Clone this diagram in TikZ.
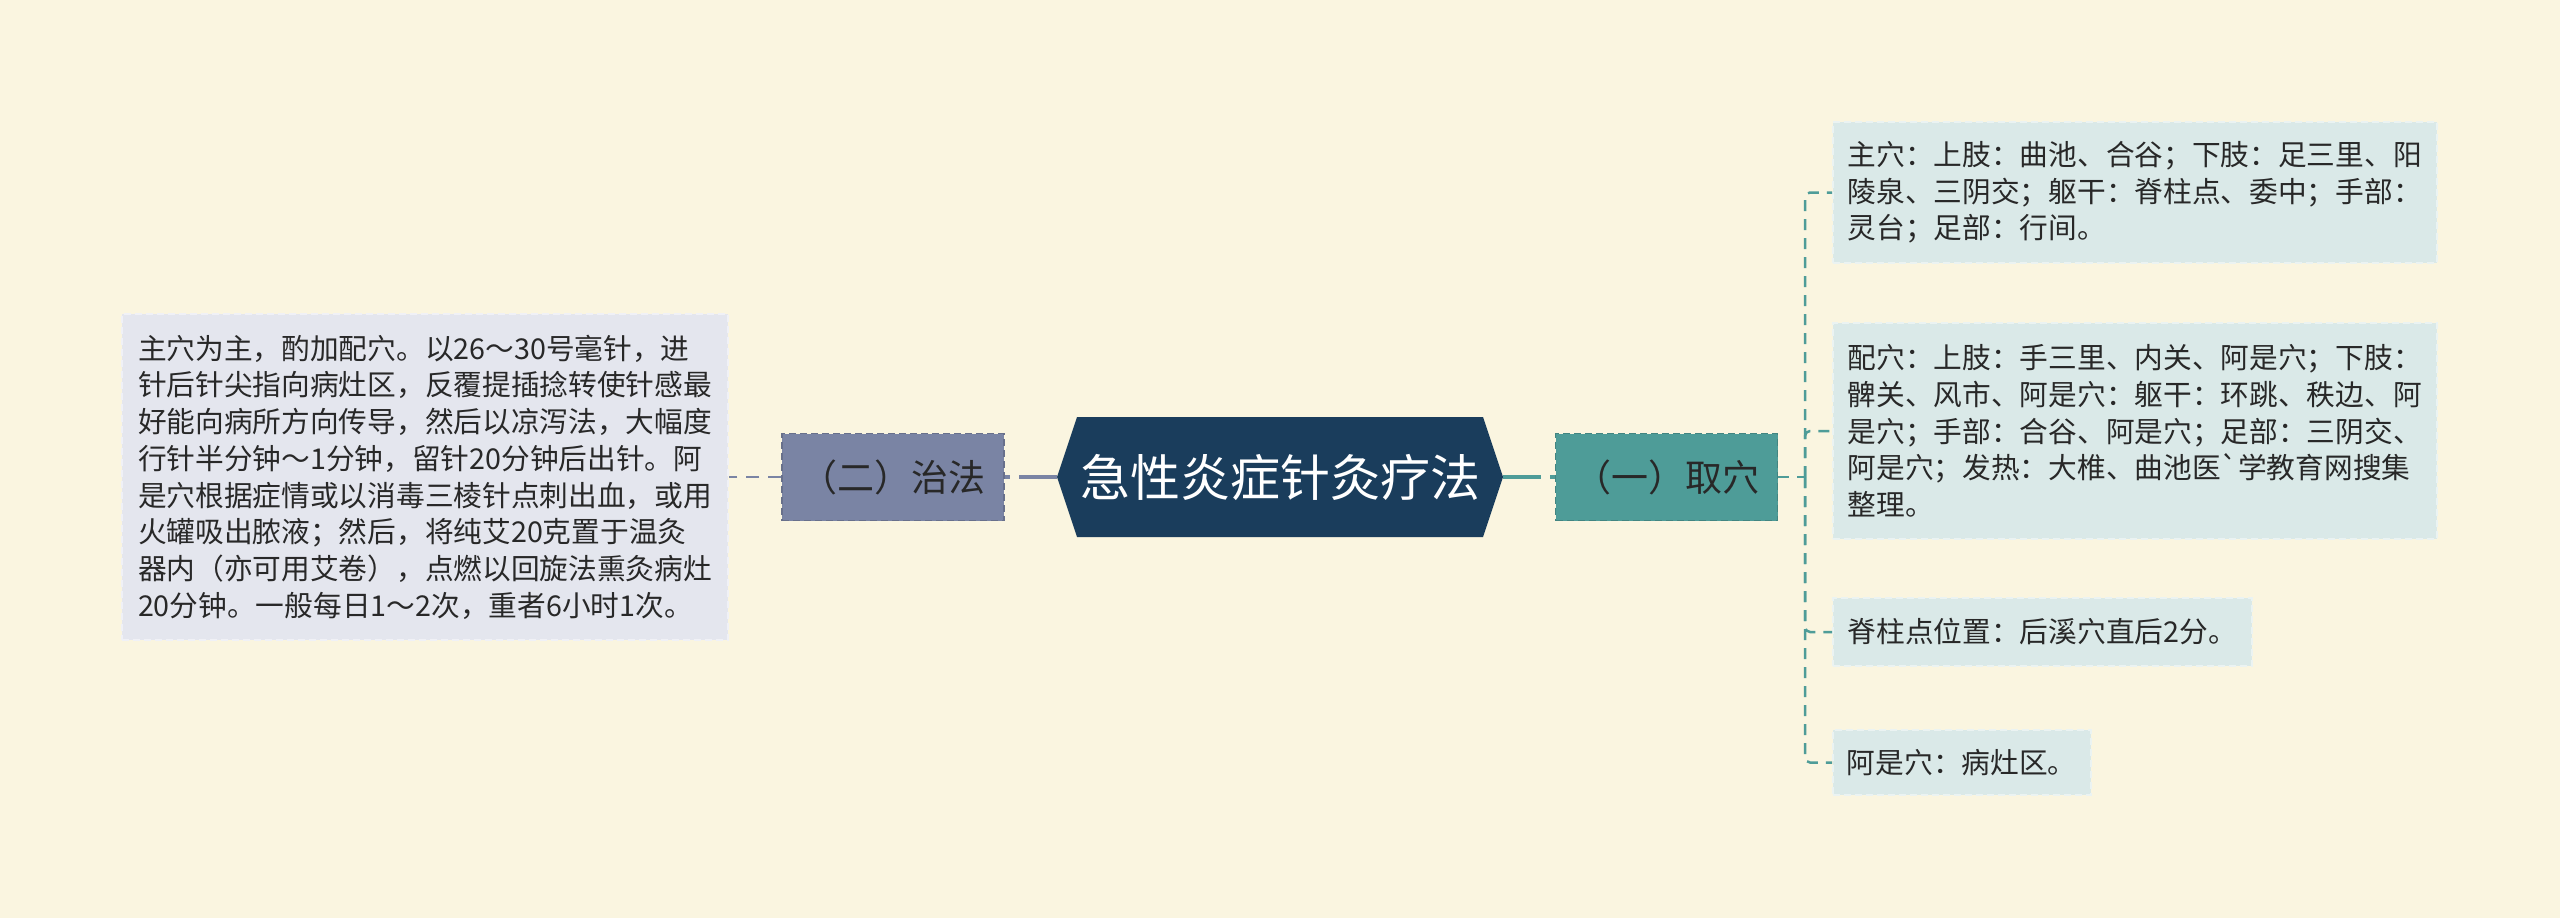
\documentclass[tikz,border=0pt]{standalone}
\usepackage{fontspec}
\newfontfamily\cjk[Ligatures=TeXOff]{Noto Sans CJK SC}
\usetikzlibrary{calc}
\definecolor{bgc}{RGB}{250,245,224}
\definecolor{lboxc}{RGB}{228,230,238}
\definecolor{zfc}{RGB}{122,132,164}
\definecolor{rootc}{RGB}{26,61,92}
\definecolor{qxc}{RGB}{78,156,152}
\definecolor{rboxc}{RGB}{218,233,232}
\definecolor{txt}{RGB}{40,40,40}
\begin{document}
\begin{tikzpicture}[x=1pt,y=-1pt,
  leaf/.style={fill=#1, draw=#1!55!white, dash pattern=on 7pt off 4pt, line width=1.5pt,
    align=left, font=\cjk\fontsize{28.7}{36.7}\selectfont, text=txt, inner sep=0pt},
  branch/.style={fill=#1, draw=#1!85!black, dash pattern=on 7pt off 4pt, line width=1.5pt,
    font=\cjk\fontsize{37}{42}\selectfont, text=txt, inner sep=0pt,
    minimum width=222pt, minimum height=87pt},
  rootnode/.style={font=\cjk\fontsize{50}{56}\selectfont, text=white, inner sep=0pt,
    minimum width=446pt, minimum height=120pt},
  lconn/.style={draw=zfc, line width=4pt, dash pattern=on 38pt off 9pt},
  ldash/.style={draw=zfc, line width=2.5pt, dash pattern=on 13pt off 9pt},
  rconn/.style={draw=qxc, line width=4pt, dash pattern=on 38pt off 9pt},
  rdash/.style={draw=qxc, line width=2.5pt, dash pattern=on 11pt off 8pt}
]
\fill[bgc] (0,0) rectangle (2560,918);
\useasboundingbox (0,0) rectangle (2560,918);

% root hexagon
\coordinate (rc) at (1280,477);
\fill[rootc] ($(rc)+(-223,0)$) -- ($(rc)+(-203,-60)$) -- ($(rc)+(203,-60)$)
  -- ($(rc)+(223,0)$) -- ($(rc)+(203,60)$) -- ($(rc)+(-203,60)$) -- cycle;
\node[rootnode] (root) at (rc) {急性炎症针灸疗法};

% left side
\node[branch=zfc] (zf) at (893,477) {（二）治法};
\node[leaf=lboxc, minimum width=606pt, minimum height=326pt] (lb) at (425,477) {%
主穴为主，酌加配穴。以26～30号毫针，进\\
针后针尖指向病灶区，反覆提插捻转使针感最\\
好能向病所方向传导，然后以凉泻法，大幅度\\
行针半分钟～1分钟，留针20分钟后出针。阿\\
是穴根据症情或以消毒三棱针点刺出血，或用\\
火罐吸出脓液；然后，将纯艾20克置于温灸\\
器内（亦可用艾卷），点燃以回旋法熏灸病灶\\
20分钟。一般每日1～2次，重者6小时1次。};

% right side
\node[branch=qxc] (qx) at (1666.5,477) {（一）取穴};
\node[leaf=rboxc, anchor=west, minimum width=604pt, minimum height=141pt] (b1) at (1832,192.5) {%
主穴：上肢：曲池、合谷；下肢：足三里、阳\\
陵泉、三阴交；躯干：脊柱点、委中；手部：\\
灵台；足部：行间。};
\node[leaf=rboxc, anchor=west, minimum width=604pt, minimum height=216pt] (b2) at (1832,431) {%
配穴：上肢：手三里、内关、阿是穴；下肢：\\
髀关、风市、阿是穴：躯干：环跳、秩边、阿\\
是穴；手部：合谷、阿是穴；足部：三阴交、\\
阿是穴；发热：大椎、曲池医`学教育网搜集\\
整理。};
\node[leaf=rboxc, anchor=west, minimum width=419pt, minimum height=68pt] (b3) at (1832,632) {脊柱点位置：后溪穴直后2分。};
\node[leaf=rboxc, anchor=west, minimum width=258pt, minimum height=65pt] (b4) at (1832,762.5) {阿是穴：病灶区。};

% connectors
\draw[lconn] (root.west) -- (zf.east);
\draw[ldash] (zf.west) -- (lb.east);
\draw[rconn] (root.east) -- (qx.west);
\coordinate (jn) at (1805,477);
\draw[rdash] (qx.east) -- (jn);
\foreach \b in {b1,b2,b3,b4}
  \draw[rdash, rounded corners=5pt] (jn) |- (\b.west);
\end{tikzpicture}
\end{document}
